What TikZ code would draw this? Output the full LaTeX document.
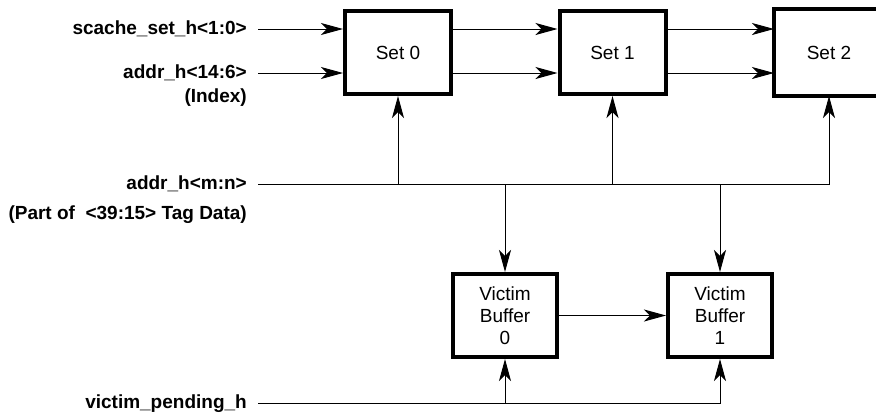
\documentclass[tikz,border=0pt]{standalone}
\usepackage{fontspec}
\setmainfont{Liberation Sans}
\usetikzlibrary{arrows.meta}
\begin{document}
\begin{tikzpicture}[x=1pt,y=-1pt,
 box/.style={draw,line width=4pt,minimum width=106pt,minimum height=83pt,inner sep=0pt,font=\fontsize{19}{22}\selectfont,align=center},
 vbox/.style={box,minimum width=104pt},
 lbl/.style={anchor=base east,inner sep=0pt,font=\fontsize{19}{22}\selectfont\bfseries},
 arr/.style={line width=1pt,-{Stealth[length=22pt,width=12pt,inset=6pt]}},
 border/.style={line width=4pt,line join=miter}]
\clip (0,0) rectangle (876,413);
% boxes
\node[box] (set0) at (398,52.5) {Set 0};
\node[box] (set1) at (612.5,52.5) {Set 1};
\node[box,draw=none] (set2) at (829,52.5) {Set 2};
\draw[border] ([xshift=20pt]set2.north east) -- (set2.north west) -- (set2.south west) -- ([xshift=20pt]set2.south east);
\node[vbox] (vb0) at (505,315.5) {Victim\\Buffer\\0};
\node[vbox] (vb1) at (720,315.5) {Victim\\Buffer\\1};
% labels
\node[lbl] (l1) at (247,34) {scache\_set\_h<1:0>};
\node[lbl] (l2) at (247,78) {addr\_h<14:6>};
\node[lbl] (l3) at (247,102) {(Index)};
\node[lbl] (l4) at (247,189) {addr\_h<m:n>};
\node[lbl] (l5) at (247,219) {(Part of\ \ <39:15> Tag Data)};
\node[lbl] (l6) at (247,408) {victim\_pending\_h};
% free ends
\coordinate (s0) at (258,29);
\coordinate (a0) at (258,73);
\coordinate (bus) at (258,184);
\coordinate (vp) at (258,403);
% top inputs and chains
\draw[arr] (s0) -- (s0 -| set0.west);
\draw[arr] (a0) -- (a0 -| set0.west);
\draw[arr] (set0.east |- s0) -- (set1.west |- s0);
\draw[arr] (set0.east |- a0) -- (set1.west |- a0);
\draw[arr] (set1.east |- s0) -- (set2.west |- s0);
\draw[arr] (set1.east |- a0) -- (set2.west |- a0);
% tag bus
\draw[arr] (bus) -| (set2.south);
\draw[arr] (set0.south |- bus) -- (set0.south);
\draw[arr] (set1.south |- bus) -- (set1.south);
\draw[arr] (vb0.north |- bus) -- (vb0.north);
\draw[arr] (vb1.north |- bus) -- (vb1.north);
% victim buffers
\draw[arr] (vb0.east) -- (vb1.west);
\draw[arr] (vp) -| (vb1.south);
\draw[arr] (vb0.south |- vp) -- (vb0.south);
\end{tikzpicture}
\end{document}
